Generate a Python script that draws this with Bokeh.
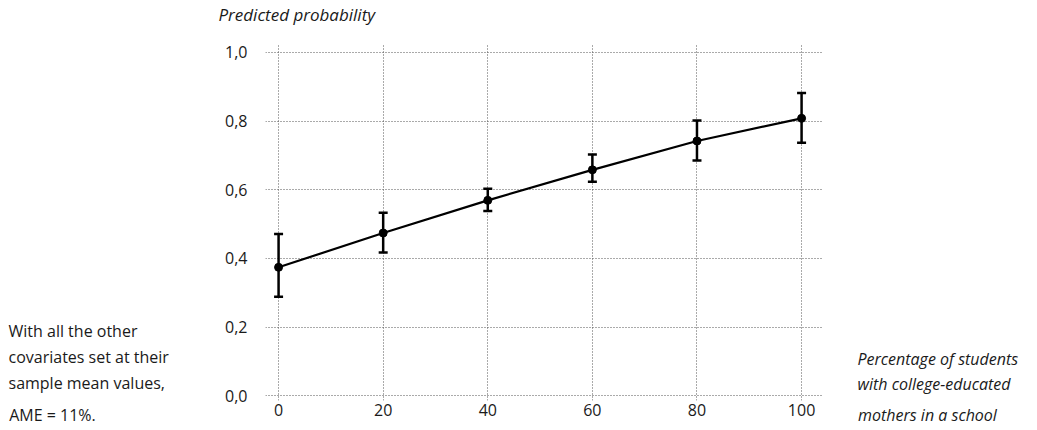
from bokeh.plotting import figure
from bokeh.layouts import row, column
from bokeh.models import FixedTicker, ColumnDataSource, Whisker, TeeHead, Range1d
from bokeh.core.properties import value
from bokeh.embed import file_html
from bokeh.resources import INLINE

pct = [0, 20, 40, 60, 80, 100]
prob = [0.374, 0.474, 0.569, 0.658, 0.742, 0.808]
lower = [0.288, 0.417, 0.538, 0.623, 0.685, 0.737]
upper = [0.471, 0.533, 0.603, 0.703, 0.802, 0.882]
y_ticks = [0.0, 0.2, 0.4, 0.6, 0.8, 1.0]
y_tick_labels = ["0,0", "0,2", "0,4", "0,6", "0,8", "1,0"]
x_ticks = [0, 20, 40, 60, 80, 100]
title_text = "Predicted probability"
left_lines = ["With all the other", "covariates set at their", "sample mean values,", "AME = 11%."]
right_lines = ["Percentage of students", "with college-educated", "mothers in a school"]

FONT = "Open Sans"
TXT = "#1a1a1a"
FS = "16px"
W = 1030
H1 = 30
H2 = 398
LW = 200
MW = 642
RW = W - LW - MW
BT = 13   # main frame top border (within row)
BB = 23   # main frame bottom border

# main chart
p = figure(width=MW, height=H2, output_backend="svg", toolbar_location=None,
           x_range=Range1d(-2.5, 104), y_range=Range1d(-0.014, 1.026),
           min_border_left=65, min_border_right=20, min_border_top=BT, min_border_bottom=BB)
p.outline_line_color = None


def style_axis(ax, italic=False):
    ax.axis_line_color = None
    ax.major_tick_line_color = None
    ax.minor_tick_line_color = None
    ax.major_tick_out = 0
    ax.major_tick_in = 0
    ax.major_label_text_font = FONT
    ax.major_label_text_font_size = FS
    ax.major_label_text_color = TXT
    if italic:
        ax.major_label_text_font_style = "italic"


style_axis(p.xaxis[0])
style_axis(p.yaxis[0])
p.xaxis.ticker = FixedTicker(ticks=x_ticks)
p.xaxis.major_label_standoff = 3
p.yaxis.ticker = FixedTicker(ticks=y_ticks)
p.yaxis.major_label_overrides = {t: l for t, l in zip(y_ticks, y_tick_labels)}
p.yaxis.major_label_standoff = 18

p.xgrid.ticker = FixedTicker(ticks=x_ticks)
p.ygrid.ticker = FixedTicker(ticks=y_ticks)
for g in (p.xgrid[0], p.ygrid[0]):
    g.grid_line_color = "#555555"
    g.grid_line_dash = "1 2"
    g.grid_line_width = 1

src = ColumnDataSource(dict(x=pct, y=prob, lo=lower, hi=upper))
w = Whisker(source=src, base="x", lower="lo", upper="hi", line_width=2.5, line_color="black",
            lower_head=TeeHead(size=9, line_width=2.5, line_color="black"),
            upper_head=TeeHead(size=9, line_width=2.5, line_color="black"))
p.add_layout(w)
p.line("x", "y", source=src, line_width=2.2, line_color="black")
p.scatter("x", "y", source=src, size=8, color="black")


def text_panel(width, height, y_top, y_bottom, lines, x0, y0, step, style, size=FS,
               last_line=None, last_center=None):
    # frame spans page rows y_top..y_bottom (row layouts align plot frames)
    f = figure(width=width, height=height, output_backend="svg", toolbar_location=None,
               title=None, x_axis_location="below" if last_line else None,
               y_axis_location=None,
               x_range=Range1d(0, width), y_range=Range1d(y_bottom, y_top),
               min_border=0)
    f.grid.visible = False
    f.outline_line_color = None
    xs = [x0] * len(lines)
    ys = [y0 + step * i for i in range(len(lines))]
    f.text(xs, ys, text=lines, text_font=value(FONT), text_font_size=size,
           text_font_style=style, text_color=TXT, text_baseline="middle", text_align="left")
    if last_line:
        # line that sits below the frame, on the level of the x tick labels
        ax = f.xaxis[0]
        style_axis(ax, italic=(style == "italic"))
        ax.ticker = FixedTicker(ticks=[last_center])
        ax.major_label_overrides = {last_center: last_line}
        ax.major_label_standoff = 3
    return f


top = text_panel(W, H1, 0, H1, [title_text], 218, 14, 0, "italic", "17px")
fr_top = H1 + BT
fr_bot = H1 + H2 - BB
left = text_panel(LW, H2, fr_top, fr_bot, left_lines[:-1], 8, 335, 26.3, "normal",
                  last_line=left_lines[-1], last_center=52)
right = text_panel(RW, H2, fr_top, fr_bot, right_lines[:-1], 15, 363, 25, "italic",
                   last_line=right_lines[-1], last_center=85)

layout = column(top, row(left, p, right))
open("out.html", "w").write(file_html(layout, INLINE))
